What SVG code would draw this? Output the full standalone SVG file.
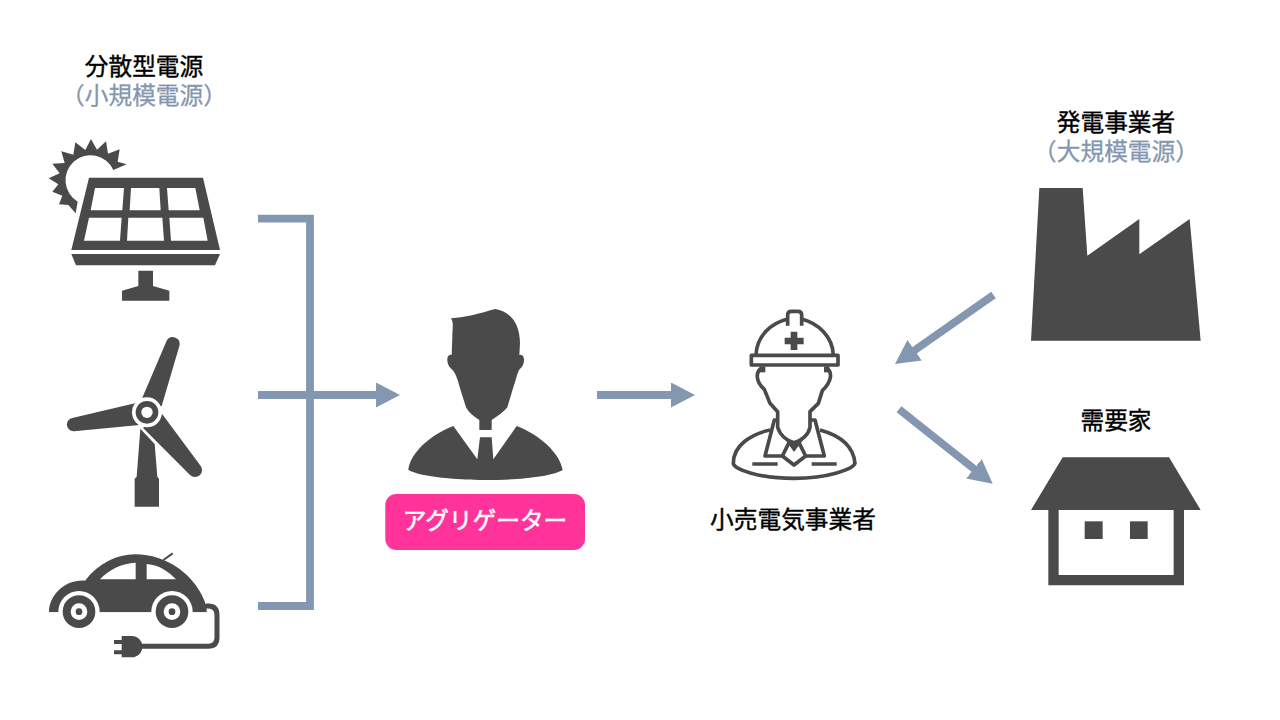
<svg xmlns="http://www.w3.org/2000/svg" width="1280" height="720" viewBox="0 0 1280 720">
<style>
text{font-family:"Noto Sans CJK JP","Noto Sans",sans-serif;font-size:23.7px;text-anchor:middle}
.k{fill:#000;stroke:#000;stroke-width:.4px}
.b{fill:#8497b0;stroke:#8497b0;stroke-width:.3px}
.w{fill:#fff;stroke:#fff;stroke-width:.55px}
.d{fill:#4a4a4a}
.o{fill:none;stroke:#4a4a4a;stroke-width:11;stroke-linejoin:round;stroke-linecap:butt}
.c{fill:none;stroke:#8497b0;stroke-width:7.8}
</style>
<defs>
<marker id="ah" markerUnits="userSpaceOnUse" markerWidth="24" markerHeight="25" viewBox="0 0 24 25" refX="12" refY="12.5" orient="auto"><path d="M0,0L24,12.5L0,25Z" fill="#8497b0"/></marker>
</defs>
<rect width="1280" height="720" fill="#fff"/>
<g id="connectors">
<path class="c" d="M258,218.700H310V606H258"/>
<path class="c" d="M258,395H388" marker-end="url(#ah)"/>
<path class="c" d="M597,395H683" marker-end="url(#ah)"/>
<path class="c" d="M993.500,295L904.800,357.100" marker-end="url(#ah)"/>
<path class="c" d="M899,409.300L983.300,476.300" marker-end="url(#ah)"/>
</g>
<g id="solar">
<text x="144" y="75"><tspan class="k" x="144">分散型電源</tspan><tspan class="b" x="144" dy="29">（小規模電源）</tspan></text>
<path class="d" transform="translate(45 135) scale(.33333)" d="M245,88L218,80L224,43L189,56L183,19L156,44L138,12L121,45L91,22L85,59L49,49L59,84L22,86L44,115L11,130L40,148L22,170L52,182L42,208L70,210L92,235L98,200A75,75 0 1 1 205,105Z"/>
<g transform="translate(40 50) scale(.33333)">
<path class="d" fill-rule="evenodd" d="M147,383H489L540,600H94ZM165,414L152,481H247L252,414ZM273,414L269,481H362L358,414ZM381,414L386,481H479L466,414ZM147,503L132,572H240L245,503ZM265,503L261,572H372L367,503ZM388,503L393,572H503L490,503Z"/>
<path class="d" d="M94,612H540L525,646H108Z"/>
<path class="d" d="M295,662H339V708L388,722V752H246V722L295,708Z"/>
</g>
</g>
<g id="wind">
<g transform="translate(40 320) scale(.33333)">
<path class="d" d="M301,326L344,372L352,470L357,476V560H284V476L290,470Z"/>
<path d="M296,312L352,368" stroke="#fff" stroke-width="5" fill="none"/>
<path class="d" d="M305,238L380,62A21,21 0 0 1 419,75L365,258L321,277Z"/>
<path class="d" d="M285,250L100,293A20.500,20.500 0 0 0 102,334L298,315L321,277Z"/>
<path class="d" d="M367,283L480,435A21,21 0 0 1 450,465L310,325L321,277Z"/>
<circle cx="321" cy="277" r="45" fill="#fff"/>
<circle cx="321" cy="277" r="34" class="d"/>
<circle cx="321" cy="277" r="17" fill="#fff"/>
</g>
</g>
<g id="car">
<g transform="translate(40 320) scale(.33333)">
<path class="d" fill-rule="evenodd" d="M27,877C27,825 75,778 135,782C175,730 230,703 285,703C380,703 470,765 500,860V877H27ZM180,778C205,750 245,730 287,728V778ZM320,732C360,735 385,755 408,778H320Z"/>
<path d="M370,720L398,700" fill="none" stroke="#4a4a4a" stroke-width="6"/>
<circle cx="117" cy="875" r="62" fill="#fff"/><circle cx="396" cy="875" r="62" fill="#fff"/>
<rect x="27" y="877" width="500" height="60" fill="#fff"/>
<circle cx="117" cy="875" r="49" class="d"/><circle cx="117" cy="875" r="25" fill="#fff"/><circle cx="117" cy="875" r="10" class="d"/>
<circle cx="396" cy="875" r="49" class="d"/><circle cx="396" cy="875" r="25" fill="#fff"/><circle cx="396" cy="875" r="10" class="d"/>
<path d="M498,858H505Q531,858 531,885V952Q531,979 505,979H300" fill="none" stroke="#4a4a4a" stroke-width="15"/>
<path class="d" d="M245,948H275A32,32 0 0 1 275,1012H245V1003H222V991H245V972H222V960H245Z"/>
</g>
</g>
<g id="aggregator">
<g transform="translate(380 300) scale(.33333)">
<path class="d" d="M213,55C260,52 300,40 345,27C395,35 420,75 420,130L418,165C436,160 436,192 422,205C412,212 410,235 400,262L382,322Q370,338 335,360V390H298V360Q268,342 258,322L240,265C232,230 222,212 212,205C198,192 198,160 215,165L217,110C217,85 222,70 213,55Z"/>
<path class="d" d="M85,510C90,460 150,405 220,378L292,478L300,412H335L340,478L410,378C480,405 540,460 548,510C480,550 160,550 85,510Z"/>
</g>
<rect x="385.300" y="494" width="199.700" height="56" rx="11" fill="#ff3399"/>
<text class="w" x="485" y="529">アグリゲーター</text>
</g>
<g id="retailer">
<g transform="translate(740 305) scale(.33333)">
<path class="o" d="M48,150C50,95 90,55 143,42M185,42C235,55 278,95 280,150"/>
<path class="o" d="M143,62V30Q143,19 154,19H174Q185,19 185,30V62"/>
<rect class="o" x="34" y="151" width="260" height="29"/>
<path class="d" d="M152,80H172V98H191V118H172V135H152V118H134V98H152Z"/>
<rect class="d" x="60" y="185" width="16" height="17"/>
<rect class="d" x="252" y="185" width="16" height="17"/>
</g>
<g transform="translate(725 370) scale(.33333)">
<path class="o" d="M112,-8C90,5 92,35 118,58L135,100L158,125V172C165,195 185,212 207,218C230,212 250,195 255,172V125L280,100L292,62C320,35 325,5 302,-8"/>
<path class="o" d="M158,150H148L120,258H172L192,218M255,150H270L298,258H242L222,218"/>
<path class="o" d="M172,258L207,285L242,258"/>
<path class="d" d="M178,205Q207,228 238,205L207,246Z"/>
<path class="o" d="M135,180C80,192 25,225 25,280C25,297 100,325 207,325C310,325 385,297 390,280C385,225 340,195 285,180"/>
<path class="o" d="M82,282H158M260,282H335"/>
</g>
<text class="k" x="793" y="528">小売電気事業者</text>
</g>
<g id="generator">
<text x="1116" y="131"><tspan class="k" x="1116">発電事業者</tspan><tspan class="b" x="1116" dy="29">（大規模電源）</tspan></text>
<g transform="translate(880 100) scale(.33333)">
<path class="d" d="M478,264H608L622,467L778,357V463L929,357L962,722H453Z"/>
</g>
</g>
<g id="consumer">
<text class="k" x="1116" y="429">需要家</text>
<g transform="translate(880 350) scale(.33333)">
<path class="d" d="M548,322H867L962,480H912V706H505V480H453ZM536,480V675H881V480Z" fill-rule="evenodd"/>
<rect class="d" x="614" y="514" width="54" height="53"/>
<rect class="d" x="750" y="514" width="53" height="53"/>
</g>
</g>
</svg>
